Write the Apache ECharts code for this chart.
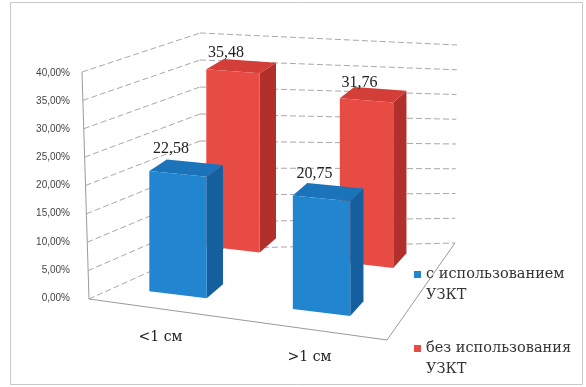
<!DOCTYPE html>
<html><head><meta charset="utf-8">
<script src="https://cdn.jsdelivr.net/npm/echarts@6/dist/echarts.min.js"></script>
<style>html,body{margin:0;padding:0;background:#fff}#c{width:586px;height:387px}</style>
</head><body><div id="c"></div>
<script>
const categories = ['<1 см', '>1 см'];
const seriesNames = ['с использованием УЗКТ', 'без использования УЗКТ'];
const withUZKT = [22.58, 20.75];
const withoutUZKT = [35.48, 31.76];
const yTicks = [0, 5, 10, 15, 20, 25, 30, 35, 40];

const fmt = v => v.toFixed(2).replace('.', ',');
const SERIF = 'Liberation Serif';
const CYR = 'DejaVu Serif';

// ---- camera (3D look) ----
const WALL = {FBL:[89,299], FTL:[82,72], FBR:[387,340], FTR:[384,128],
              BBL:[200,249], BTL:[200,33], BBR:[455,243], BTR:[457,45]};
function lerp(a,b,t){return [a[0]+(b[0]-a[0])*t, a[1]+(b[1]-a[1])*t];}
function wallPt(u,v,w){
  const fb = lerp(WALL.FBL, WALL.FBR, u), ft = lerp(WALL.FTL, WALL.FTR, u);
  const bb = lerp(WALL.BBL, WALL.BBR, u), bt = lerp(WALL.BTL, WALL.BTR, u);
  return lerp(lerp(fb, bb, w), lerp(ft, bt, w), v);
}
function barPt(u, v, w){
  const xl = 87.8 + 92.3*w, xr = 381 + 61.5*w, yl = 299.5 - 68.3*w, yr = 336.4 - 74.9*w;
  const H = 211 + 12*u + (w-0.2)/0.65*(u-13.5);
  return [xl + u*(xr-xl), yl + u*(yr-yl) - v*H];
}
function norm(params, api, cat, val){
  const c = params.coordSys, p = api.coord([cat, val]);
  return [(p[0]-c.x)/c.width, (c.y+c.height-p[1])/c.height];
}

function boxRenderer(rowW, col, labDy){
  return function(params, api){
    const c = params.coordSys;
    const idx = api.value(0), val = api.value(1);
    const [u, v] = norm(params, api, idx, val);
    const du = api.size([1,0])[0]/c.width*0.2;
    const w0 = rowW, w1 = rowW + 0.2, u0 = u-du, u1 = u+du;
    const P = barPt;
    const front = [P(u0,0,w0), P(u1,0,w0), P(u1,v,w0), P(u0,v,w0)];
    const side = [P(u1,0,w0), P(u1,0,w1), P(u1,v,w1), P(u1,v,w0)];
    const top = [P(u0,v,w0), P(u1,v,w0), P(u1,v,w1), P(u0,v,w1)];
    const lab = P(u, v, w0);
    return {type:'group', children:[
      {type:'polygon', shape:{points:side}, style:{fill:col.side}},
      {type:'polygon', shape:{points:top}, style:{fill:col.top}},
      {type:'polygon', shape:{points:front}, style:{fill:col.front}},
      {type:'text', style:{x:lab[0]-7, y:lab[1]+labDy, text:fmt(val), align:'center', verticalAlign:'middle',
        fontFamily:SERIF, fontSize:16, fill:'#222'}}
    ]};
  };
}

const blue = {front:'#2185d0', side:'#165f9e', top:'#1b73ba'};
const red = {front:'#e84a44', side:'#b2302b', top:'#d43e38'};
const gridCol = '#a8a8a8', edgeCol = '#9a9a9a';

const legendText = {rich:{a:{fontFamily:CYR, fontSize:14.5, color:'#333', lineHeight:21}}};
const legendFmt = n => '{a| }\n{a|' + n.replace(' УЗКТ', '}\n{a|УЗКТ}');
const chart = echarts.init(document.getElementById('c'), null, {renderer:'canvas'});
chart.setOption({
  animation: false,
  backgroundColor: '#fff',
  graphic: [{type:'rect', shape:{x:10.5, y:2.5, width:572, height:382}, style:{fill:'none', stroke:'#c8c8c8', lineWidth:1}, silent:true}],
  grid: {left: 76, top: 73, width: 300, height: 225},
  xAxis: {type:'category', data: categories, show:false},
  yAxis: {type:'value', min: yTicks[0], max: yTicks[yTicks.length-1], interval: yTicks[1]-yTicks[0],
    axisLine:{show:false}, axisTick:{show:false}, splitLine:{show:false},
    axisLabel:{margin:6, formatter: v => fmt(v) + '%', fontFamily:'Liberation Sans', fontSize:10, color:'#444'}},
  legend: [
    {left: 409, top: 241, itemWidth:7, itemHeight:7, itemGap:0, icon:'rect', data:[seriesNames[0]],
      formatter: legendFmt, textStyle: legendText},
    {left: 409, top: 315, itemWidth:7, itemHeight:7, itemGap:0, icon:'rect', data:[seriesNames[1]],
      formatter: legendFmt, textStyle: legendText}
  ],
  series: [
    {type:'custom', name:'walls', coordinateSystem:'cartesian2d', z:1, silent:true, clip:false,
      data: yTicks.map(t => [0, t]),
      renderItem: function(params, api){
        const [, v] = norm(params, api, 0, api.value(1));
        const dash = {stroke:gridCol, lineWidth:1, lineDash:[6,3]};
        const a = wallPt(0,v,0), b = wallPt(0,v,1), d = wallPt(1,v,1);
        const ch = [
          {type:'polyline', shape:{points:[a,b]}, style:dash},
          {type:'polyline', shape:{points:[b,d]}, style:dash}
        ];
        if (params.dataIndex === 0){
          const sol = {stroke:edgeCol, lineWidth:1, fill:'none'};
          ch.push({type:'polyline', shape:{points:[wallPt(0,1,0), wallPt(0,0,0), wallPt(1,0,0), wallPt(1,0,1)]}, style:sol});
        }
        return {type:'group', children:ch};
      }},
    {type:'custom', name:'catLabels', coordinateSystem:'cartesian2d', z:1, silent:true, clip:false,
      data: categories.map((c,i) => [i, 0]),
      renderItem: function(params, api){
        const [u] = norm(params, api, api.value(0), 0);
        const p = wallPt(u, 0, 0);
        return {type:'text', style:{x:p[0]-3, y:p[1]+28, text:categories[params.dataIndex], align:'center', verticalAlign:'middle',
          fontFamily:CYR, fontSize:14, fill:'#222'}};
      }},
    {type:'custom', name: seriesNames[1], coordinateSystem:'cartesian2d', z:2, clip:false,
      itemStyle:{color: red.front},
      data: withoutUZKT.map((v,i) => [i, v]), renderItem: boxRenderer(0.85, red, -18)},
    {type:'custom', name: seriesNames[0], coordinateSystem:'cartesian2d', z:3, clip:false,
      itemStyle:{color: blue.front},
      data: withUZKT.map((v,i) => [i, v]), renderItem: boxRenderer(0.2, blue, -25)}
  ]
});
</script></body></html>
